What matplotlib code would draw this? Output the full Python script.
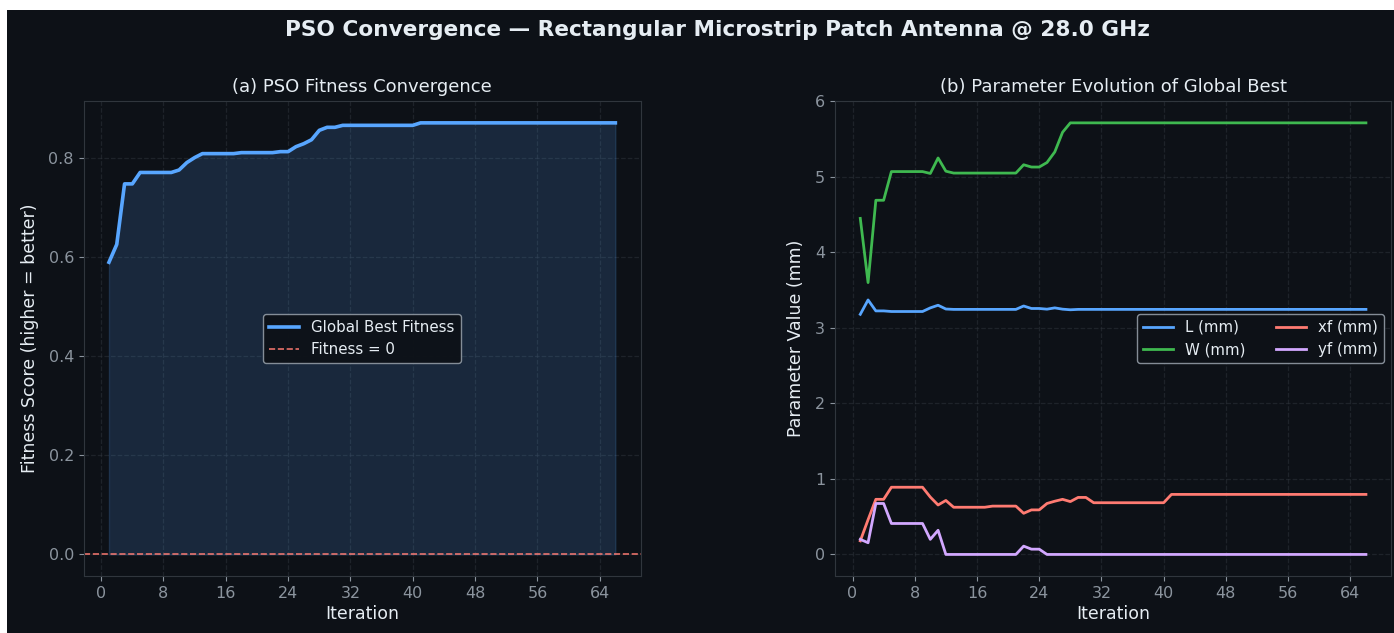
import matplotlib.pyplot as plt
import numpy as np
from matplotlib.patches import Rectangle

# --- data ---
fitness = (
    [0.589, 0.625, 0.747, 0.747, 0.770, 0.770, 0.770, 0.770, 0.770, 0.775]
    + [0.790, 0.800, 0.808, 0.808, 0.808, 0.808, 0.808, 0.810, 0.810, 0.810]
    + [0.810, 0.810, 0.812, 0.812, 0.822, 0.828, 0.836, 0.855, 0.861, 0.861]
    + [0.865] * 10
    + [0.870] * 26
)

L_mm = (
    [3.18, 3.37, 3.225, 3.225, 3.217, 3.217, 3.217, 3.217, 3.217, 3.265]
    + [3.30, 3.25, 3.245, 3.245, 3.245, 3.245, 3.245, 3.245, 3.245, 3.245]
    + [3.245, 3.29, 3.257, 3.257, 3.248, 3.265, 3.248, 3.24]
    + [3.245] * 38
)

W_mm = (
    [4.45, 3.60, 4.69, 4.69, 5.07, 5.07, 5.07, 5.07, 5.07, 5.045]
    + [5.25, 5.075, 5.05, 5.05, 5.05, 5.05, 5.05, 5.05, 5.05, 5.05]
    + [5.05, 5.16, 5.13, 5.13, 5.19, 5.33, 5.59, 5.715]
    + [5.715] * 38
)

xf_mm = (
    [0.18, 0.46, 0.73, 0.73, 0.89, 0.89, 0.89, 0.89, 0.89, 0.76]
    + [0.655, 0.715, 0.625, 0.625, 0.625, 0.625, 0.625, 0.64, 0.64, 0.64]
    + [0.64, 0.545, 0.59, 0.59, 0.675, 0.705, 0.73, 0.70, 0.755, 0.755]
    + [0.685] * 10
    + [0.795] * 26
)

yf_mm = (
    [0.20, 0.155, 0.675, 0.675, 0.41, 0.41, 0.41, 0.41, 0.41, 0.20]
    + [0.32, 0.0, 0.0, 0.0, 0.0, 0.0, 0.0, 0.0, 0.0, 0.0]
    + [0.0, 0.11, 0.07, 0.07]
    + [0.0] * 42
)

iterations = np.arange(1, len(fitness) + 1)

# --- style ---
BG = "#0d1117"
PANEL = "#0d1117"
GRID = "#30363d"
TEXT = "#e6edf3"
MUTED = "#8b949e"
BLUE = "#58a6ff"
GREEN = "#3fb950"
RED = "#ff7b72"
PURPLE = "#d2a8ff"


def style_axes(ax):
    ax.set_facecolor(PANEL)
    for spine in ax.spines.values():
        spine.set_color(GRID)
    ax.tick_params(colors=MUTED, labelsize=11.5)
    ax.xaxis.label.set_color(TEXT)
    ax.yaxis.label.set_color(TEXT)
    ax.title.set_color(TEXT)
    ax.grid(True, color=GRID, linestyle="--", linewidth=0.9, alpha=0.5)
    ax.set_axisbelow(True)
    ax.xaxis.set_major_locator(plt.MultipleLocator(8))


fig = plt.figure(figsize=(13.94, 6.33), dpi=100, facecolor="white")
fig.add_artist(Rectangle((7 / 1394, 0), 1, 1 - 10 / 633, transform=fig.transFigure,
                         facecolor=BG, edgecolor="none", zorder=0))

ax1 = fig.add_axes([0.060, 0.090, 0.3996, 0.750])
ax2 = fig.add_axes([0.599, 0.090, 0.399, 0.750])

# (a) fitness convergence
ax1.plot(iterations, fitness, color=BLUE, lw=2.6, label="Global Best Fitness", zorder=3)
ax1.fill_between(iterations, fitness, 0, color=BLUE, alpha=0.16, zorder=2)
ax1.axhline(0, color=RED, ls="--", lw=1.2, alpha=0.9, label="Fitness = 0")
ax1.set_title("(a) PSO Fitness Convergence", fontsize=13, pad=7)
ax1.set_xlabel("Iteration", fontsize=12.5, labelpad=3)
ax1.set_ylabel("Fitness Score (higher = better)", fontsize=12.5, labelpad=7)
style_axes(ax1)
ax1.legend(loc="center", fontsize=10.8, facecolor=BG, edgecolor=MUTED, labelcolor=TEXT,
           framealpha=0.95)

# (b) parameter evolution
ax2.plot(iterations, L_mm, color=BLUE, lw=2.0, label="L (mm)")
ax2.plot(iterations, W_mm, color=GREEN, lw=2.0, label="W (mm)")
ax2.plot(iterations, xf_mm, color=RED, lw=2.0, label="xf (mm)")
ax2.plot(iterations, yf_mm, color=PURPLE, lw=2.0, label="yf (mm)")
ax2.set_title("(b) Parameter Evolution of Global Best", fontsize=13, pad=7)
ax2.set_xlabel("Iteration", fontsize=12.5, labelpad=3)
ax2.set_ylabel("Parameter Value (mm)", fontsize=12.5, labelpad=7)
style_axes(ax2)
ax2.legend(loc="center right", ncol=2, fontsize=10.8, facecolor=BG, edgecolor=MUTED,
           labelcolor=TEXT, framealpha=0.95)

fig.text(0.5145, 0.952, "PSO Convergence \u2014 Rectangular Microstrip Patch Antenna @ 28.0 GHz",
         ha="center", va="center", fontsize=15.6, fontweight="bold", color=TEXT)

fig.savefig("out.png", dpi=100, facecolor=fig.get_facecolor())
